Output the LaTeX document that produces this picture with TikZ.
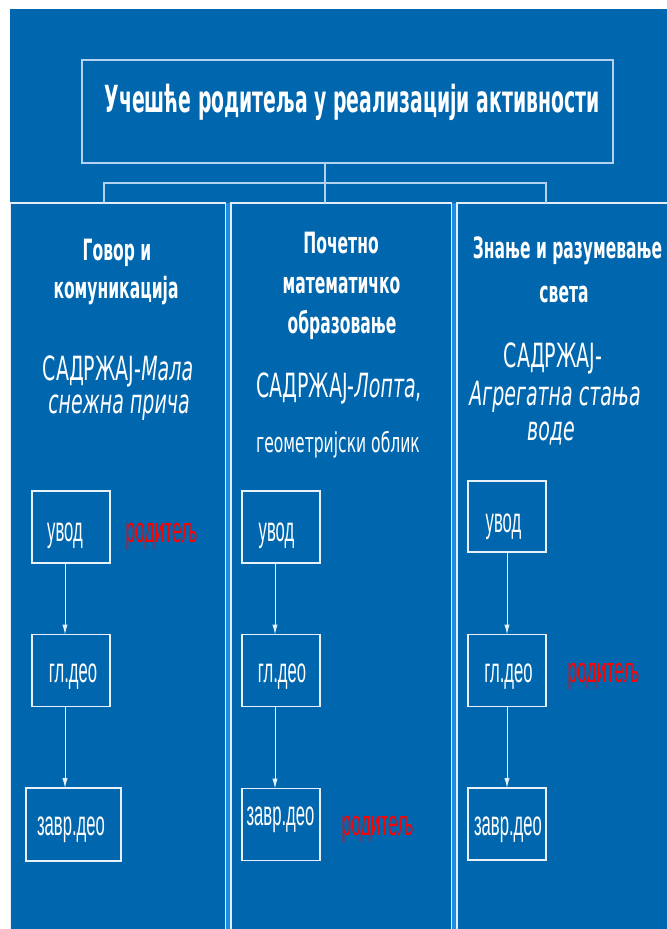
\documentclass[tikz,border=0pt]{standalone}
\usepackage{fontspec}
\usetikzlibrary{arrows.meta}
\newfontfamily\hfont[FakeStretch=0.57]{DejaVu Sans}
\newfontfamily\tfont[FakeStretch=0.505]{DejaVu Sans}
\newfontfamily\hdfont[FakeStretch=0.53]{DejaVu Sans}
\newfontfamily\afont[FakeStretch=0.48]{Liberation Sans}
\definecolor{bg}{HTML}{0067AF}
\definecolor{gapcol}{HTML}{1E8BE6}
\definecolor{titleline}{HTML}{B4D2EE}
\definecolor{colline}{HTML}{E4EEF8}
\definecolor{boxline}{HTML}{E8F0F8}
\definecolor{parent}{HTML}{FF0000}
\tikzset{
  colbox/.style={draw=colline, line width=1.1pt, fill=bg, inner sep=0pt, outer sep=0pt},
  titlebox/.style={draw=titleline, line width=0.9pt, fill=bg, inner sep=0pt, outer sep=0pt},
  stepbox/.style={draw=boxline, line width=0.9pt, inner sep=0pt, outer sep=0pt, minimum width=58.5pt, minimum height=54pt},
  conn/.style={draw=titleline, line width=0.9pt},
  arr/.style={draw=boxline, line width=0.75pt, -{Latex[length=7.5pt,width=4pt]}},
  ttl/.style={anchor=base, text=white, inner sep=0pt, font=\tfont\bfseries\fontsize{28}{32}\selectfont},
  hdr/.style={anchor=base, text=white, inner sep=0pt, font=\hdfont\bfseries\fontsize{22}{26}\selectfont},
  cnt/.style={anchor=base, text=white, inner sep=0pt, font=\hfont\fontsize{25}{28}\selectfont},
  cntsm/.style={anchor=base, text=white, inner sep=0pt, font=\hfont\fontsize{20.5}{24}\selectfont},
  steptxt/.style={anchor=base, text=white, inner sep=0pt, font=\afont\fontsize{26}{30}\selectfont},
  partxt/.style={anchor=base, text=parent, inner sep=0pt, font=\afont\fontsize{27}{30}\selectfont}
}
\begin{document}
\begin{tikzpicture}[x=0.75pt,y=-0.75pt]
\useasboundingbox (0,0) rectangle (667,929);
\fill[white] (0,0) rectangle (667,929);
\fill[bg] (10,9) rectangle (667,929);
% gaps between columns
\fill[gapcol] (225.5,203) rectangle (231,945);
\fill[gapcol] (451.5,203) rectangle (457,945);
% columns
\node[colbox, minimum width=161.25pt, minimum height=555pt] (c1) at (118,573) {};
\node[colbox, minimum width=165.4pt, minimum height=555pt] (c2) at (341.25,573) {};
\node[colbox, minimum width=174.75pt, minimum height=555pt] (c3) at (573.5,573) {};
% title
\node[titlebox, minimum width=398.25pt, minimum height=77.25pt] (t) at (347.5,111.5) {};
\node[ttl] (tt) at (352,112) {Учешће родитеља у реализацији активности};
% connectors
\coordinate (j) at (325,183);
\coordinate (l1) at (104,183);
\coordinate (l3) at (546,183);
\draw[conn] (t.south -| j) -- (c2.north -| j);
\draw[conn] (c1.north -| l1) -- (l1) -- (l3) -- (c3.north -| l3);
% column 1 texts
\node[hdr] (h1a) at (117,260) {Говор и};
\node[hdr] (h1b) at (116,298) {комуникација};
\node[cnt] (s1a) at (118,380) {САДРЖАЈ-\textit{Мала}};
\node[cnt] (s1b) at (119,413) {\textit{снежна прича}};
% column 2 texts
\node[hdr] (h2a) at (341,253) {Почетно};
\node[hdr] (h2b) at (341.5,293) {математичко};
\node[hdr] (h2c) at (342,333) {образовање};
\node[cnt] (s2a) at (339,397) {САДРЖАЈ-\textit{Лопта},};
\node[cntsm] (s2b) at (338,452) {геометријски облик};
% column 3 texts
\node[hdr] (h3a) at (567.5,258) {Знање и разумевање};
\node[hdr] (h3b) at (564,302) {света};
\node[cnt] (s3a) at (553,367) {САДРЖАЈ-};
\node[cnt] (s3b) at (555,405) {\textit{Агрегатна стања}};
\node[cnt] (s3c) at (551,440) {\textit{воде}};
% step boxes column 1
\node[stepbox] (u1) at (71,527) {};
\node[stepbox] (g1) at (71,670.5) {};
\node[stepbox, minimum width=71.25pt, minimum height=54.75pt] (z1) at (73.5,824.5) {};
% step boxes column 2
\node[stepbox] (u2) at (281,527) {};
\node[stepbox] (g2) at (281,670.5) {};
\node[stepbox] (z2) at (281,824.5) {};
% step boxes column 3
\node[stepbox, minimum height=53.25pt] (u3) at (507,516.5) {};
\node[stepbox] (g3) at (507,670.5) {};
\node[stepbox] (z3) at (507,824) {};
% step texts
\node[steptxt] (u1t) at (65,541) {увод};
\node[steptxt] (g1t) at (73,682) {гл.део};
\node[steptxt] (z1t) at (71,835) {завр.део};
\node[steptxt] (u2t) at (276.5,541) {увод};
\node[steptxt] (g2t) at (282,682) {гл.део};
\node[steptxt] (z2t) at (280.5,825) {завр.део};
\node[steptxt] (u3t) at (503.5,532) {увод};
\node[steptxt] (g3t) at (508.5,682) {гл.део};
\node[steptxt] (z3t) at (508,835) {завр.део};
% parent labels
\node[partxt] (p1) at (161.5,542) {родитељ};
\node[partxt] (p3) at (603.5,682) {родитељ};
\node[partxt] (p2) at (377.5,835) {родитељ};
% arrows
\coordinate (a1) at (65,0);
\coordinate (a2) at (275,0);
\coordinate (a3) at (507,0);
\draw[arr] (u1.south -| a1) -- (g1.north -| a1);
\draw[arr] (g1.south -| a1) -- (z1.north -| a1);
\draw[arr] (u2.south -| a2) -- (g2.north -| a2);
\draw[arr] (g2.south -| a2) -- (z2.north -| a2);
\draw[arr] (u3.south -| a3) -- (g3.north -| a3);
\draw[arr] (g3.south -| a3) -- (z3.north -| a3);
\end{tikzpicture}
\end{document}
